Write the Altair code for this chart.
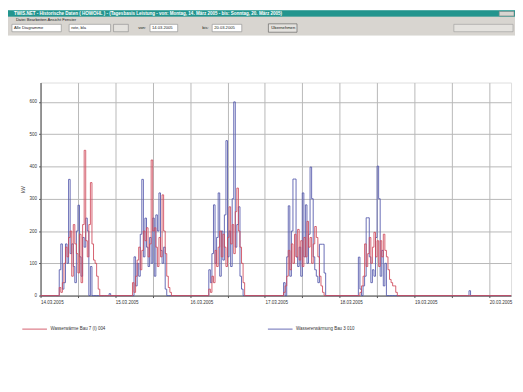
import altair as alt
import pandas as pd

# ---------------- data ----------------
red_name = "Wasserwärme Bau 7 (I) 004"
blue_name = "Wassererwärmung Bau 3 010"

day_dates = ["2005-03-14", "2005-03-15", "2005-03-16", "2005-03-17", "2005-03-18", "2005-03-19"]
day_start_hours = [5.0, 5.0, 5.5, 5.5, 5.5, 17.0]   # first 30-min slot of each day's values

red_1403 = [0, 0, 25, 10, 40, 100, 150, 120, 180, 200, 60, 220, 160, 130, 70, 190, 40, 220,
            450, 170, 120, 220, 350, 160, 110, 100, 60, 20, 0, 0, 0, 0, 0, 0, 0, 0]
blue_1403 = [0, 0, 80, 160, 20, 40, 160, 100, 360, 130, 160, 90, 40, 200, 280, 120, 60, 180,
             150, 240, 200, 0, 90, 0, 0, 0, 0, 0, 0, 0, 0, 0, 0, 0, 6, 0]

red_1503 = [0, 40, 10, 60, 110, 150, 80, 140, 200, 170, 210, 120, 160, 420, 200, 210, 150, 90,
            180, 120, 312, 200, 130, 60, 25, 10, 0]
blue_1503 = [0, 0, 120, 30, 100, 60, 190, 360, 120, 240, 150, 90, 180, 100, 240, 60, 250, 200,
             318, 140, 100, 150, 20, 0, 0, 0, 0]

red_1603 = [0, 20, 10, 60, 40, 140, 90, 150, 200, 120, 190, 150, 90, 180, 275, 160, 220, 130,
            260, 333, 200, 150, 100, 40, 0]
blue_1603 = [0, 80, 40, 130, 281, 100, 180, 318, 60, 200, 110, 250, 480, 120, 200, 90, 300, 600,
             150, 220, 275, 60, 20, 0, 0]

red_1703 = [0, 10, 30, 60, 140, 80, 160, 100, 190, 120, 205, 110, 170, 90, 180, 120, 230, 150,
            180, 100, 160, 214, 180, 120, 60, 30, 10, 0, 0]
blue_1703 = [0, 40, 0, 120, 278, 60, 200, 361, 361, 120, 90, 150, 60, 318, 120, 281, 100, 190,
             398, 300, 120, 80, 60, 40, 159, 159, 159, 70, 0]

red_1803 = [0, 0, 10, 30, 60, 160, 90, 130, 180, 100, 150, 196, 120, 170, 90, 170, 120, 190,
            140, 120, 80, 50, 40, 30, 30, 10, 0]
blue_1803 = [0, 119, 20, 0, 30, 60, 241, 241, 120, 40, 80, 60, 180, 401, 300, 60, 140, 30,
             100, 0, 0, 0, 0, 0, 0, 0, 0]

red_1903 = [0, 0, 0]
blue_1903 = [0, 15, 0]

red_days = [red_1403, red_1503, red_1603, red_1703, red_1803, red_1903]
blue_days = [blue_1403, blue_1503, blue_1603, blue_1703, blue_1803, blue_1903]

edge_times = ["2005-03-14 00:00", "2005-03-20 07:00"]

y_ticks = [0, 100, 200, 300, 400, 500, 600]

rows = []
for date, h0, rv, bv in zip(day_dates, day_start_hours, red_days, blue_days):
    base = pd.Timestamp(date) + pd.Timedelta(hours=h0)
    for i, (r, b) in enumerate(zip(rv, bv)):
        t = base + pd.Timedelta(minutes=30 * i)
        rows.append({"time": t, "value": r, "series": red_name})
        rows.append({"time": t, "value": b, "series": blue_name})
for et in edge_times:
    rows.append({"time": pd.Timestamp(et), "value": 0, "series": red_name})
    rows.append({"time": pd.Timestamp(et), "value": 0, "series": blue_name})
df = pd.DataFrame(rows).sort_values(["series", "time"])

RED = "#cf4a5c"
BLUE = "#5458ac"
FONT = "Liberation Sans"

# plot-area placement inside the canvas
PL, PT = 33, 73
W, H = 477, 216

x_grid = [alt.DateTime(year=2005, month=3, date=14 + d, hours=h)
          for d in range(7) for h in (0, 12) if not (d == 6 and h == 12)]

lines = alt.Chart(df).mark_line(interpolate="step-after", strokeWidth=1, opacity=0.88).encode(
    x=alt.X(
        "time:T",
        scale=alt.Scale(domain=[alt.DateTime(year=2005, month=3, date=14, hours=0),
                                alt.DateTime(year=2005, month=3, date=20, hours=7)]),
        axis=alt.Axis(
            values=x_grid,
            labelExpr="hours(datum.value) == 0 ? timeFormat(datum.value, '%d.%m.%Y') : ''",
            title=None, grid=True, gridColor="#b8b8b8", gridWidth=1,
            domainColor="#555555", tickColor="#555555", tickSize=2,
            labelFontSize=4.6, labelFont=FONT, labelColor="#333333",
            labelAlign="left", labelPadding=2, labelFlush=False, labelOverlap=False,
        ),
    ),
    y=alt.Y(
        "value:Q",
        scale=alt.Scale(domain=[0, 660], nice=False, zero=True),
        axis=alt.Axis(
            values=y_ticks, title="kW", titleFontSize=4.6, titleFont=FONT,
            titleFontWeight="normal", titleColor="#333333", titlePadding=4,
            grid=True, gridColor="#b8b8b8", gridWidth=1,
            domainColor="#555555", tickColor="#555555", tickSize=2,
            labelFontSize=4.6, labelFont=FONT, labelColor="#333333", labelPadding=2,
        ),
    ),
    color=alt.Color(
        "series:N",
        scale=alt.Scale(domain=[red_name, blue_name], range=[RED, BLUE]),
        legend=alt.Legend(
            orient="none", legendX=-19, legendY=237, direction="horizontal",
            title=None, symbolType="stroke", symbolSize=625, symbolStrokeWidth=1,
            labelFontSize=4.5, labelFont=FONT, labelColor="#333333",
            labelOffset=3, columnPadding=162, padding=0,
        ),
    ),
)

# ---------------- window chrome (decoration) ----------------
def cx(v):
    return v - PL

def cy(v):
    return v - PT

chrome_boxes = pd.DataFrame([
    # x1, x2, y1, y2 in canvas pixels, fill, stroke
    {"x1": 0, "x2": 514, "y1": 0, "y2": 6.5, "fill": "#23958e", "stroke": "#23958e"},
    {"x1": 0, "x2": 514, "y1": 6.5, "y2": 25, "fill": "#d8d5d0", "stroke": "#d8d5d0"},
    {"x1": 498, "x2": 513, "y1": 1, "y2": 5.5, "fill": "#d8d5d0", "stroke": "#888888"},
    {"x1": 4, "x2": 54, "y1": 14, "y2": 21.5, "fill": "#ffffff", "stroke": "#888888"},
    {"x1": 62, "x2": 104, "y1": 14, "y2": 21.5, "fill": "#ffffff", "stroke": "#888888"},
    {"x1": 107, "x2": 122, "y1": 14, "y2": 21.5, "fill": "#e4e2de", "stroke": "#888888"},
    {"x1": 144, "x2": 172, "y1": 14, "y2": 21.5, "fill": "#ffffff", "stroke": "#888888"},
    {"x1": 207, "x2": 237, "y1": 14, "y2": 21.5, "fill": "#ffffff", "stroke": "#888888"},
    {"x1": 264, "x2": 293, "y1": 13.5, "y2": 22, "fill": "#e4e2de", "stroke": "#555555"},
    {"x1": 452, "x2": 512, "y1": 14, "y2": 21.5, "fill": "#e4e2de", "stroke": "#999999"},
])
chrome_boxes["x1"] = chrome_boxes["x1"].map(cx)
chrome_boxes["x2"] = chrome_boxes["x2"].map(cx)
chrome_boxes["y1"] = chrome_boxes["y1"].map(cy)
chrome_boxes["y2"] = chrome_boxes["y2"].map(cy)

boxes = alt.Chart(chrome_boxes).mark_rect(strokeWidth=0.6).encode(
    x=alt.X("x1:Q", scale=None, axis=None),
    x2="x2:Q",
    y=alt.Y("y1:Q", scale=None, axis=None),
    y2="y2:Q",
    fill=alt.Fill("fill:N", scale=None, legend=None),
    stroke=alt.Stroke("stroke:N", scale=None, legend=None),
)

window_title = ("TWIS.NET - Historische Daten ( HOWOHL ) - (Tagesbasis Leistung - "
                "von: Montag, 14. März 2005 - bis: Sonntag, 20. März 2005)")
title_df = pd.DataFrame([{"x": cx(6), "y": cy(3.4), "t": window_title}])
title_text = alt.Chart(title_df).mark_text(
    align="left", baseline="middle", fontSize=4.6, font=FONT, fontWeight="bold", color="#ffffff"
).encode(
    x=alt.X("x:Q", scale=None, axis=None),
    y=alt.Y("y:Q", scale=None, axis=None),
    text="t:N",
)

labels_df = pd.DataFrame([
    {"x": 8, "y": 9.8, "t": "Datei   Bearbeiten   Ansicht   Fenster"},
    {"x": 6, "y": 17.8, "t": "Alle Diagramme"},
    {"x": 64, "y": 17.8, "t": "rote, bla"},
    {"x": 132, "y": 17.8, "t": "von:"},
    {"x": 146, "y": 17.8, "t": "14.03.2005"},
    {"x": 197, "y": 17.8, "t": "bis:"},
    {"x": 209, "y": 17.8, "t": "20.03.2005"},
    {"x": 267, "y": 17.8, "t": "Übernehmen"},
])
labels_df["x"] = labels_df["x"].map(cx)
labels_df["y"] = labels_df["y"].map(cy)
label_text = alt.Chart(labels_df).mark_text(
    align="left", baseline="middle", fontSize=4.2, font=FONT, color="#222222"
).encode(
    x=alt.X("x:Q", scale=None, axis=None),
    y=alt.Y("y:Q", scale=None, axis=None),
    text="t:N",
)

chart = alt.layer(boxes, title_text, label_text, lines).properties(
    width=W, height=H,
    padding={"left": PL, "top": PT, "right": 4, "bottom": 81},
    autosize=alt.AutoSizeParams(type="none"),
).configure_view(stroke="#8a8a8a", strokeWidth=1).configure(background="#ffffff")

chart.save("out.html", embed_options={"renderer": "svg", "actions": False})
